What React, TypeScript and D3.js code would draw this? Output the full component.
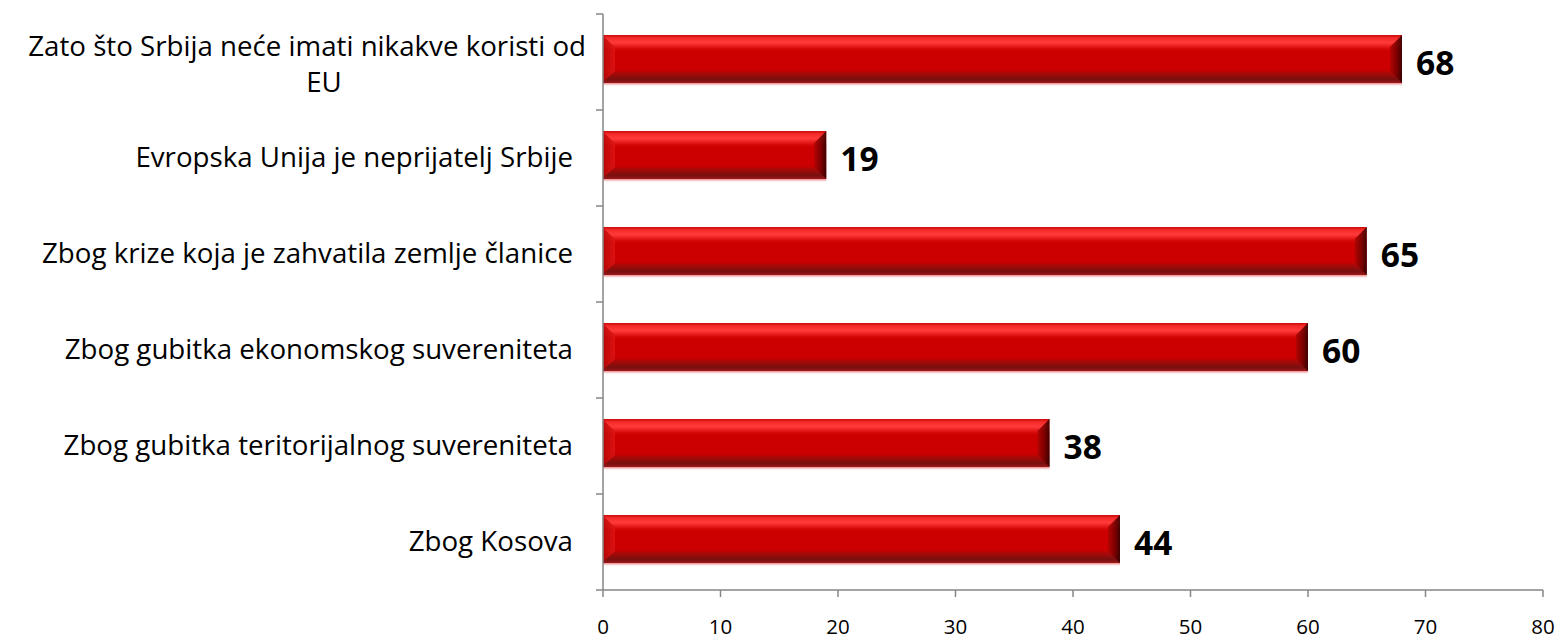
import React from 'react';
import * as d3 from 'd3';

const categories: string[][] = [
  ['Zato što Srbija neće imati nikakve koristi od', 'EU'],
  ['Evropska Unija je neprijatelj Srbije'],
  ['Zbog krize koja je zahvatila zemlje članice'],
  ['Zbog gubitka ekonomskog suvereniteta'],
  ['Zbog gubitka teritorijalnog suvereniteta'],
  ['Zbog Kosova'],
];
const values = [68, 19, 65, 60, 38, 44];
const xTicks = [0, 10, 20, 30, 40, 50, 60, 70, 80];

const W = 1558;
const H = 639;
const FONT = "'Open Sans', 'Noto Sans', sans-serif";

const App: React.FC = () => {
  const x = d3.scaleLinear().domain([0, 80]).range([603, 1543]);
  const keys = categories.map((c, i) => String(i));
  const y = d3.scaleBand<string>().domain(keys).range([14, 590]).paddingInner(0.5).paddingOuter(0.25);
  const step = y.step();
  const bw = y.bandwidth();
  const bev = 12;
  const axisColor = '#868686';

  return (
    <svg width={W} height={H} style={{ position: 'absolute', left: 0, top: 0, background: '#fff' }}>
      <defs>
        <linearGradient id="barBody" x1="0" y1="0" x2="0" y2="1">
          <stop offset="0" stopColor="#c80808" />
          <stop offset="0.06" stopColor="#f42a2a" />
          <stop offset="0.16" stopColor="#ff3a3a" />
          <stop offset="0.28" stopColor="#d80a0a" />
          <stop offset="0.34" stopColor="#cc0000" />
          <stop offset="0.72" stopColor="#cc0000" />
          <stop offset="0.82" stopColor="#a00a0a" />
          <stop offset="0.93" stopColor="#781010" />
          <stop offset="1" stopColor="#a01818" />
        </linearGradient>
        <linearGradient id="barLeft" x1="0" y1="0" x2="1" y2="0">
          <stop offset="0" stopColor="#b80606" />
          <stop offset="1" stopColor="#e01515" />
        </linearGradient>
        <linearGradient id="barRight" x1="0" y1="0" x2="1" y2="0">
          <stop offset="0" stopColor="#b00404" />
          <stop offset="0.6" stopColor="#700000" />
          <stop offset="1" stopColor="#300000" />
        </linearGradient>
        <linearGradient id="barRefl" x1="0" y1="0" x2="0" y2="1">
          <stop offset="0" stopColor="#e88080" />
          <stop offset="1" stopColor="#ffffff" stopOpacity="0" />
        </linearGradient>
      </defs>

      {/* bars */}
      {values.map((v, i) => {
        const y0 = (y(String(i)) as number) - 3;
        const y1 = y0 + bw;
        const x0 = x(0);
        const x1 = x(v);
        return (
          <g key={i}>
            <rect x={x0} y={y1} width={x1 - x0} height={4} fill="url(#barRefl)" />
            <rect x={x0} y={y0} width={x1 - x0} height={bw} fill="url(#barBody)" />
            <polygon
              points={`${x0},${y0 + 1} ${x0 + bev},${y0 + bev} ${x0 + bev},${y1 - bev} ${x0},${y1 - 1}`}
              fill="url(#barLeft)"
              opacity={0.85}
            />
            <polygon
              points={`${x1},${y0} ${x1 - bev},${y0 + bev} ${x1 - bev},${y1 - bev} ${x1},${y1}`}
              fill="url(#barRight)"
              opacity={0.9}
            />
            <text
              x={x1 + 14}
              y={y0 + bw / 2 + 16}
              fontFamily={FONT}
              fontWeight="bold"
              fontSize={33.5}
              fill="#000"
            >
              {v}
            </text>
          </g>
        );
      })}

      {/* y axis */}
      <line x1={603} x2={603} y1={14} y2={590} stroke={axisColor} strokeWidth={1.5} />
      {d3.range(categories.length + 1).map((k) => (
        <line key={k} x1={596} x2={603} y1={14 + k * step} y2={14 + k * step} stroke={axisColor} strokeWidth={1.5} />
      ))}
      {categories.map((lines, i) => {
        const c = (y(String(i)) as number) + bw / 2;
        if (lines.length === 1) {
          return (
            <text key={i} x={573} y={c + 9} textAnchor="end" fontFamily={FONT} fontSize={27.7} fill="#000">
              {lines[0]}
            </text>
          );
        }
        return (
          <g key={i}>
            <text x={586} y={c - 6} textAnchor="end" fontFamily={FONT} fontSize={27.7} fill="#000">
              {lines[0]}
            </text>
            <text x={324} y={c + 30} textAnchor="middle" fontFamily={FONT} fontSize={27.7} fill="#000">
              {lines[1]}
            </text>
          </g>
        );
      })}

      {/* x axis */}
      <line x1={603} x2={1543} y1={590} y2={590} stroke={axisColor} strokeWidth={1.5} />
      {xTicks.map((t) => (
        <g key={t}>
          <line x1={x(t)} x2={x(t)} y1={590} y2={597} stroke={axisColor} strokeWidth={1.5} />
          <text x={x(t)} y={634} textAnchor="middle" fontFamily={FONT} fontSize={20.5} fill="#000">
            {t}
          </text>
        </g>
      ))}
    </svg>
  );
};

export default App;
